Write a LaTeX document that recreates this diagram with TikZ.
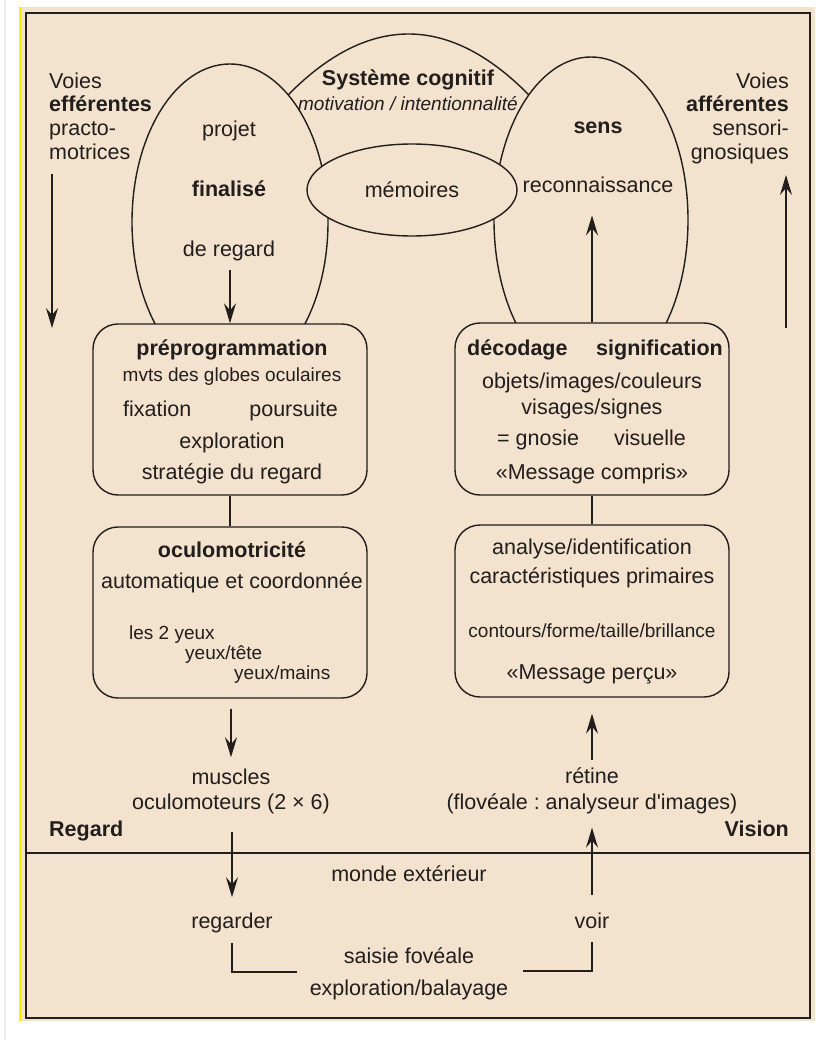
\documentclass[tikz,border=0pt]{standalone}
\usepackage{fontspec}
\setmainfont{Liberation Sans}[Ligatures=TeXOff]
\usetikzlibrary{shapes.geometric,arrows.meta}
\definecolor{bg}{RGB}{243,226,206}
\definecolor{ink}{RGB}{34,30,28}
\definecolor{edge}{RGB}{235,235,235}
\frenchspacing
\begin{document}
\begin{tikzpicture}[x=1pt,y=-1pt,
  big/.style={font=\fontsize{21.5}{24}\selectfont, text=ink, inner sep=0pt, anchor=base},
  sm/.style={font=\fontsize{19}{22}\selectfont, text=ink, inner sep=0pt, anchor=base},
  bf/.style={font=\fontsize{21.5}{24}\selectfont\bfseries, text=ink, inner sep=0pt, anchor=base},
  it/.style={font=\fontsize{19}{22}\selectfont\itshape, text=ink, inner sep=0pt, anchor=base},
  ln/.style={draw=ink, line width=1.4pt},
  arr/.style={ln, -{Stealth[length=20pt,width=12pt,inset=7pt]}},
  ell/.style={ellipse, ln, fill=bg, inner sep=0pt},
  boxst/.style={rectangle, ln, fill=bg, rounded corners=25pt, inner sep=0pt, minimum width=274pt}]
\useasboundingbox (0,0) rectangle (815,1040);
% background
\fill[white] (0,0) rectangle (815,1040);
\draw[edge, line width=1.5pt] (5,0) -- (5,1040);
\fill[bg] (22,7) rectangle (815,1021);
\fill[yellow] (19,7) rectangle (22,1021);
\draw[ink, line width=2pt] (26,13.5) rectangle (810,1017.5);
\draw[ink, line width=2pt] (26,853) -- (810,853);
% cognitive arc
\draw[ln] (280,103.4) .. controls (365.67,10.87) and (451.33,10.87) .. (537,103.4);
% ellipses
\node[ell, minimum width=196pt, minimum height=316pt] (le) at (230,222) {};
\node[ell, minimum width=194pt, minimum height=326pt] (re) at (591,220) {};
\node[ell, minimum width=210pt, minimum height=92pt, font=\fontsize{21.5}{24}\selectfont, text=ink] (mem) at (412,190) {mémoires};
% boxes
\node[boxst, minimum height=171pt] (pp) at (230,409.5) {};
\node[boxst, minimum height=171pt] (om) at (230,612.5) {};
\node[boxst, minimum height=172pt] (dc) at (592,409) {};
\node[boxst, minimum height=172pt] (an) at (592,611) {};
% side texts
\node[big, anchor=base west] (vl1) at (49,89) {Voies};
\node[bf, anchor=base west] (vl2) at (49,112) {efférentes};
\node[big, anchor=base west] (vl3) at (49,136) {practo-};
\node[big, anchor=base west] (vl4) at (49,160) {motrices};
\node[big, anchor=base east] (vr1) at (789,89) {Voies};
\node[bf, anchor=base east] (vr2) at (789,112) {afférentes};
\node[big, anchor=base east] (vr3) at (789,136) {sensori-};
\node[big, anchor=base east] (vr4) at (789,160) {gnosiques};
\coordinate (la1) at (52,174);
\coordinate (la2) at (52,328);
\coordinate (ra1) at (786,328);
\coordinate (ra2) at (786,175);
\draw[arr] (la1) -- (la2);
\draw[arr] (ra1) -- (ra2);
% top texts
\node[bf] (sc) at (408,86) {Système cognitif};
\node[it] (mot) at (408,111) {motivation / intentionnalité};
\node[big] (proj) at (229,137) {projet};
\node[bf] (fin) at (229,197) {finalisé};
\node[big] (dereg) at (229,257) {de regard};
\node[bf] (sens) at (598,134) {sens};
\node[big] (reco) at (598,193) {reconnaissance};
\draw[arr, shorten <=8pt] (pp.north |- dereg.south) -- (pp.north);
\draw[arr, shorten >=22pt] (dc.north) -- (dc.north |- reco.south);
% left boxes text
\node[bf] (t1) at (232,355) {préprogrammation};
\node[sm] (t2) at (232,381) {mvts des globes oculaires};
\node[big, anchor=base west] (t3) at (123,416) {fixation};
\node[big, anchor=base east] (t4) at (338,416) {poursuite};
\node[big] (t5) at (232,448) {exploration};
\node[big] (t6) at (232,479) {stratégie du regard};
\node[bf] (o1) at (232,557) {oculomotricité};
\node[big] (o2) at (232,588) {automatique et coordonnée};
\node[sm, anchor=base west] (o3) at (129,639) {les 2 yeux};
\node[sm, anchor=base west] (o4) at (185,659) {yeux/tête};
\node[sm, anchor=base west] (o5) at (234,679) {yeux/mains};
% right boxes text
\node[bf, anchor=base west] (d1) at (467,355) {décodage};
\node[bf, anchor=base east] (d2) at (723,355) {signification};
\node[big] (d3) at (592,388) {objets/images/couleurs};
\node[big] (d4) at (592,414) {visages/signes};
\node[big, anchor=base west] (d5) at (497,445) {= gnosie};
\node[big] (d6) at (650,445) {visuelle};
\node[big] (d7) at (592,479) {«Message compris»};
\node[big] (a1) at (592,554) {analyse/identification};
\node[big] (a2) at (592,583) {caractéristiques primaires};
\node[sm] (a3) at (592,637) {contours/forme/taille/brillance};
\node[big] (a4) at (592,679) {«Message perçu»};
\draw[ln] (pp.south) -- (om.north);
\draw[ln] (dc.south) -- (an.north);
% lower part
\node[big] (mu1) at (231,784) {muscles};
\node[big] (mu2) at (231,809) {oculomoteurs (2 × 6)};
\node[big] (re1) at (592,783) {rétine};
\node[big] (re2) at (592,809) {(flovéale : analyseur d'images)};
\node[bf, anchor=base west] (rg) at (49,836) {Regard};
\node[bf, anchor=base east] (vi) at (789,836) {Vision};
\node[big] (me) at (409,881) {monde extérieur};
\node[big] (rgd) at (232,928) {regarder};
\node[big] (voir) at (592,928) {voir};
\node[big] (sf) at (409,963) {saisie fovéale};
\node[big] (eb) at (409,995) {exploration/balayage};
\draw[arr, shorten <=10pt, shorten >=11pt] (om.south -| mu1.north) -- (mu1.north);
\draw[arr, shorten <=18pt, shorten >=15pt] (mu2.south -| rgd.north) -- (rgd.north);
\draw[arr, shorten <=7pt, shorten >=16pt] (re1.north) -- (an.south -| re1.north);
\draw[arr, shorten <=17pt, shorten >=14pt] (voir.north) -- (re2.south -| voir.north);
\coordinate (bl1) at (232,943);
\coordinate (bl2) at (297,972);
\coordinate (br1) at (523,971);
\coordinate (br2) at (592,942);
\draw[ln] (bl1) |- (bl2);
\draw[ln] (br1) -| (br2);
\end{tikzpicture}
\end{document}
